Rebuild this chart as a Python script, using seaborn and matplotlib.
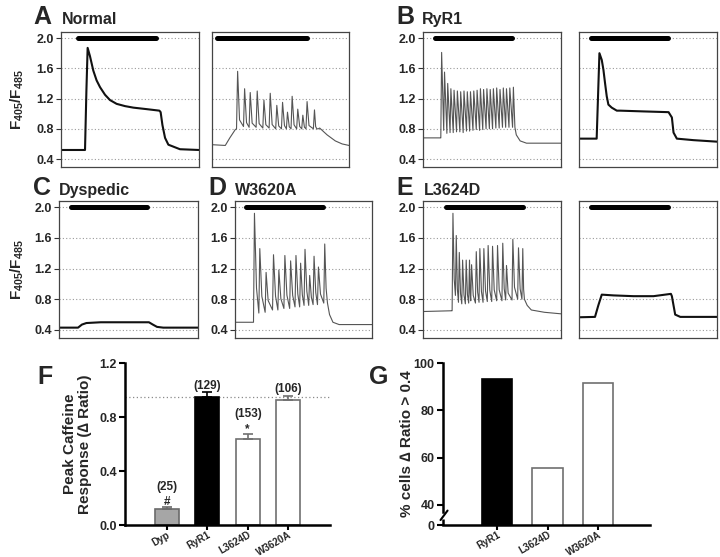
import numpy as np
import pandas as pd
import matplotlib
matplotlib.use("Agg")
import matplotlib.pyplot as plt
import seaborn as sns

sns.set_style("ticks")
plt.rcParams['font.family'] = ['Liberation Sans', 'DejaVu Sans']
plt.rcParams['font.weight'] = 'bold'
plt.rcParams['mathtext.fontset'] = 'custom'
plt.rcParams['mathtext.rm'] = 'Liberation Sans:bold'
plt.rcParams['mathtext.bf'] = 'Liberation Sans:bold'
plt.rcParams['mathtext.it'] = 'Liberation Sans:bold'

# ---------------- trace data (time in % of sweep, value = F405/F485) -------------
# Normal, smooth response
a1_t = [0, 17.4, 18.4, 19.3, 21.0, 23.4, 25.8, 28.3, 31.9, 35.5, 40.3, 46.4, 52.4, 62.1, 71.3, 72.2, 73.5, 75.4, 77.8, 86.2, 100]
a1_v = [0.52, 0.52, 1.30, 1.87, 1.76, 1.57, 1.44, 1.35, 1.25, 1.18, 1.13, 1.10, 1.08, 1.06, 1.04, 1.02, 0.85, 0.68, 0.59, 0.53, 0.52]
# Normal, oscillating
a2_pre_t = [0, 9.7, 13.0, 17.0]
a2_pre_v = [0.59, 0.58, 0.68, 0.79]
a2_pk_t = [18.7, 23.8, 27.9, 33.0, 37.9, 42.5, 47.3, 51.5, 55.1, 58.5, 62.6, 66.3, 69.4, 74.8]
a2_pk_v = [1.56, 1.33, 1.28, 1.30, 1.18, 1.27, 1.11, 1.15, 1.02, 1.23, 1.06, 0.98, 1.16, 1.05]
a2_tr_v = [0.80, 0.83, 0.82, 0.82, 0.81, 0.81, 0.80, 0.80, 0.80, 0.80, 0.80, 0.80, 0.80, 0.80]
a2_post_t = [76.5, 77.6, 78.6, 84.0, 90.0, 95.0, 100]
a2_post_v = [0.80, 0.80, 0.81, 0.72, 0.64, 0.60, 0.58]
# RyR1, oscillating
b1_pre_t = [0, 12.5]
b1_pre_v = [0.68, 0.68]
b1_pk_t = [13.5, 15.6, 17.9, 20.2, 22.5, 24.9, 27.3, 29.7, 32.1, 34.4, 36.8, 39.2, 41.6,
           43.9, 46.3, 48.7, 51.0, 53.4, 55.8, 58.2, 60.5, 62.9, 65.5]
b1_pk_v = [1.81, 1.55, 1.40, 1.33, 1.31, 1.30, 1.29, 1.30, 1.29, 1.29, 1.30, 1.31, 1.33,
           1.32, 1.33, 1.32, 1.33, 1.34, 1.32, 1.34, 1.33, 1.34, 1.35]
b1_tr_v = [0.68, 0.78, 0.74, 0.75, 0.75, 0.76, 0.76, 0.75, 0.77, 0.77, 0.78, 0.79, 0.78,
           0.79, 0.80, 0.80, 0.80, 0.81, 0.81, 0.82, 0.82, 0.82, 0.82]
b1_post_t = [66.6, 67.6, 70.4, 75.0, 100]
b1_post_v = [0.82, 0.72, 0.64, 0.61, 0.61]
# RyR1, smooth
b2_t = [0, 12.8, 14.8, 16.5, 17.7, 18.9, 20.1, 21.3, 23.7, 27.4, 29.8, 46.7, 64.9, 67.3, 68.5, 70.9, 83.0, 100]
b2_v = [0.67, 0.67, 1.80, 1.71, 1.58, 1.40, 1.23, 1.12, 1.08, 1.04, 1.04, 1.03, 1.02, 0.95, 0.75, 0.67, 0.65, 0.63]
# Dyspedic
c_t = [0, 13.7, 16.5, 19.7, 30.0, 50.0, 64.7, 67.5, 70.5, 75.0, 100]
c_v = [0.43, 0.43, 0.47, 0.49, 0.50, 0.50, 0.50, 0.47, 0.44, 0.43, 0.43]
# W3620A
d_pre_t = [0, 12.2]
d_pre_v = [0.50, 0.50]
d_pk_t = [14.2, 18.1, 22.7, 28.1, 32.0, 36.4, 40.6, 44.5, 47.9, 51.1, 54.5, 57.7, 60.9, 65.5]
d_pk_v = [1.92, 1.46, 1.15, 1.38, 1.18, 1.37, 1.30, 1.37, 1.27, 1.45, 1.11, 1.36, 1.22, 1.52]
d_tr_v = [0.50, 0.62, 0.63, 0.66, 0.66, 0.68, 0.68, 0.70, 0.70, 0.72, 0.72, 0.73, 0.73, 0.75]
d_post_t = [67.5, 69.0, 71.5, 76.0, 100]
d_post_v = [0.75, 0.60, 0.50, 0.47, 0.47]
# L3624D, oscillating
e1_pre_t = [0, 21.0]
e1_pre_v = [0.64, 0.65]
e1_pk_t = [21.7, 24.1, 26.3, 28.7, 31.3, 33.7, 35.2, 38.6, 41.2, 44.1, 47.2, 50.4, 54.0, 57.8, 60.5, 65.1, 69.2, 72.3]
e1_pk_v = [1.92, 1.63, 1.41, 1.31, 1.31, 1.31, 1.25, 1.42, 1.46, 1.46, 1.50, 1.49, 1.50, 1.53, 1.24, 1.58, 1.47, 1.46]
e1_tr_v = [0.65, 0.85, 0.76, 0.74, 0.74, 0.75, 0.78, 0.75, 0.76, 0.76, 0.77, 0.77, 0.78, 0.78, 0.79, 0.79, 0.80, 0.80]
e1_post_t = [73.5, 75.5, 78.5, 88.0, 100]
e1_post_v = [0.80, 0.72, 0.66, 0.63, 0.61]
# L3624D, small plateau
e2_t = [0, 11.6, 14.0, 16.5, 25.0, 39.5, 54.0, 66.6, 67.3, 69.7, 73.4, 100]
e2_v = [0.565, 0.57, 0.72, 0.86, 0.85, 0.84, 0.84, 0.87, 0.84, 0.60, 0.57, 0.57]

# caffeine application bars (start, end in % of sweep)
bar_a1 = [12.6, 68.8]
bar_a2 = [3.6, 69.2]
bar_b1 = [8.9, 64.3]
bar_b2 = [8.5, 64.4]
bar_c = [8.4, 63.5]
bar_d = [8.1, 64.3]
bar_e1 = [16.9, 72.8]
bar_e2 = [8.5, 64.4]

trace_ticks = [0.4, 0.8, 1.2, 1.6, 2.0]
trace_ticklabels = ["0.4", "0.8", "1.2", "1.6", "2.0"]

# ---------------- bar chart data ----------------
f_cats = ["Dyp", "RyR1", "L3624D", "W3620A"]
f_vals = [0.116, 0.950, 0.637, 0.924]
f_errs = [0.015, 0.033, 0.035, 0.034]
f_n = ["(25)", "(129)", "(153)", "(106)"]
f_marks = ["#", "", "*", ""]
f_ref = 0.95

g_cats = ["RyR1", "L3624D", "W3620A"]
g_vals = [93.3, 55.5, 91.6]
g_ticks = [40, 60, 80, 100]


def spike_trace(pre_t, pre_v, pk_t, pk_v, tr_v, post_t, post_v, rise, sh_dt, sh_frac):
    t = list(pre_t)
    v = list(pre_v)
    n = len(pk_t)
    for i in range(n):
        t += [pk_t[i] - rise, pk_t[i]]
        v += [tr_v[i], pk_v[i]]
        if sh_dt > 0:
            nxt_t = pk_t[i + 1] - rise if i + 1 < n else post_t[0]
            nxt_v = tr_v[i + 1] if i + 1 < n else post_v[0]
            dt = min(sh_dt, 0.5 * (nxt_t - pk_t[i]))
            t.append(pk_t[i] + dt)
            v.append(nxt_v + sh_frac * (pk_v[i] - nxt_v))
    t += list(post_t)
    v += list(post_v)
    return t, v


W, H = 720, 557
fig = plt.figure(figsize=(W / 100, H / 100), dpi=100, facecolor="white")


def px_axes(l, t, r, b):
    return fig.add_axes([l / W, 1 - b / H, (r - l) / W, (b - t) / H])


def trace_panel(rect, t, v, bar, color, lw, labels):
    ax = px_axes(*rect)
    ax.set_xlim(0, 100)
    ax.set_ylim(0.295, 2.08)
    for y in trace_ticks:
        ax.axhline(y, color="#9a9a9a", lw=0.8, ls=(0, (1, 2)), zorder=0)
    df = pd.DataFrame({"t": t, "v": v})
    sns.lineplot(data=df, x="t", y="v", sort=False, estimator=None, color=color, lw=lw, ax=ax)
    ax.plot(bar, [2.0, 2.0], color="black", lw=3.6, solid_capstyle="round", zorder=5)
    ax.set_xlabel("")
    ax.set_ylabel("")
    ax.set_xticks([])
    ax.set_yticks(trace_ticks)
    if labels:
        ax.set_yticklabels(trace_ticklabels, fontsize=9, fontweight="bold")
        ax.tick_params(axis="y", length=3.5, width=0.8, pad=1.5, color="#333333")
    else:
        ax.set_yticklabels([])
        ax.tick_params(axis="y", length=0)
    for s in ax.spines.values():
        s.set_color("#444444")
        s.set_linewidth(0.9)
        s.set_visible(True)
    return ax


dark = "#111111"
osc = "#555555"

a2_t, a2_v = spike_trace(a2_pre_t, a2_pre_v, a2_pk_t, a2_pk_v, a2_tr_v, a2_post_t, a2_post_v, 0.8, 1.4, 0.12)
b1_t, b1_v = spike_trace(b1_pre_t, b1_pre_v, b1_pk_t, b1_pk_v, b1_tr_v, b1_post_t, b1_post_v, 0.6, 0.0, 0.0)
d_t, d_v = spike_trace(d_pre_t, d_pre_v, d_pk_t, d_pk_v, d_tr_v, d_post_t, d_post_v, 0.7, 1.5, 0.25)
e1_t, e1_v = spike_trace(e1_pre_t, e1_pre_v, e1_pk_t, e1_pk_v, e1_tr_v, e1_post_t, e1_post_v, 0.6, 1.2, 0.2)

trace_panel((61, 32, 199, 167), a1_t, a1_v, bar_a1, dark, 1.5, True)
trace_panel((212, 32, 349, 167), a2_t, a2_v, bar_a2, osc, 0.8, False)
trace_panel((423, 32, 561, 167), b1_t, b1_v, bar_b1, osc, 0.8, True)
trace_panel((579, 32, 717, 167), b2_t, b2_v, bar_b2, dark, 1.5, False)
trace_panel((59, 201, 198, 338), c_t, c_v, bar_c, dark, 1.5, True)
trace_panel((235, 201, 372, 338), d_t, d_v, bar_d, osc, 0.8, True)
trace_panel((423, 201, 561, 338), e1_t, e1_v, bar_e1, osc, 0.8, True)
trace_panel((579, 201, 717, 338), e2_t, e2_v, bar_e2, dark, 1.5, False)


# panel letters & titles
def ftext(x, y, s, size, **kw):
    fig.text(x / W, 1 - y / H, s, fontsize=size, fontweight="bold", **kw)


ftext(33, 24, "A", 18, va="baseline")
ftext(62, 24, "Normal", 11.5, va="baseline")
ftext(396, 24, "B", 18, va="baseline")
ftext(422, 24, "RyR1", 11.5, va="baseline")
ftext(33, 195, "C", 18, va="baseline")
ftext(59, 195, "Dyspedic", 11.5, va="baseline")
ftext(208, 195, "D", 18, va="baseline")
ftext(235, 195, "W3620A", 11.5, va="baseline")
ftext(396, 195, "E", 18, va="baseline")
ftext(424, 195, "L3624D", 11.5, va="baseline")
ftext(37, 384, "F", 18, va="baseline")
ftext(369, 384, "G", 18, va="baseline")

ylab = r"$\mathbf{F_{405}/F_{485}}$"
ftext(17, 100, ylab, 11, rotation=90, ha="center", va="center")
ftext(17, 270, ylab, 11, rotation=90, ha="center", va="center")

# ---------------- panel F ----------------
axf = px_axes(125, 363, 330, 525)
f_df = pd.DataFrame({"cat": f_cats, "val": f_vals})
f_fill = ["#a6a6a6", "#000000", "#ffffff", "#ffffff"]
f_edge = ["#6a6a6a", "#000000", "#707070", "#707070"]
sns.barplot(data=f_df, x="cat", y="val", hue="cat", palette=f_fill, order=f_cats,
            hue_order=f_cats, width=0.6, legend=False, ax=axf, errorbar=None, linewidth=1.2)
for p, ec in zip(axf.patches, f_edge):
    p.set_edgecolor(ec)
    p.set_linewidth(1.2)
for i in range(len(f_cats)):
    top = f_vals[i] + f_errs[i]
    axf.errorbar(i, f_vals[i], yerr=[[0], [f_errs[i]]], fmt="none", ecolor=f_edge[i],
                 elinewidth=1.2, capsize=3.5, capthick=1.2, zorder=3)
    if f_marks[i]:
        axf.text(i, top + 0.04, f_marks[i], ha="center", va="center", fontsize=8.5, fontweight="bold")
        ny = top + 0.15
    else:
        ny = top + 0.05
    axf.text(i, ny, f_n[i], ha="center", va="center", fontsize=8.5, fontweight="bold")
axf.axhline(f_ref, color="#8a8a8a", lw=0.9, ls=(0, (1, 2)), zorder=0)
axf.set_xlim(-1.03, 4.03)
axf.set_ylim(0, 1.2)
axf.set_yticks([0, 0.4, 0.8, 1.2])
axf.set_yticklabels(["0.0", "0.4", "0.8", "1.2"], fontsize=9, fontweight="bold")
axf.set_xticks(range(len(f_cats)))
axf.set_xticklabels(f_cats, rotation=30, ha="right", rotation_mode="anchor", fontsize=7.1, fontweight="bold")
axf.set_xlabel("")
axf.set_ylabel("Peak Caffeine\nResponse (\u2206 Ratio)", fontsize=11, fontweight="bold", linespacing=1.15)
axf.yaxis.set_label_coords(-0.16, 0.5)
sns.despine(ax=axf)
for s in ["left", "bottom"]:
    axf.spines[s].set_linewidth(1.8)
    axf.spines[s].set_color("black")
axf.tick_params(axis="y", length=4, width=1.5, color="black", pad=2)
axf.tick_params(axis="x", length=3.5, width=1.5, color="black", pad=0)

# ---------------- panel G ----------------
axg = px_axes(443, 363, 650, 525)
g_df = pd.DataFrame({"cat": g_cats, "val": g_vals})
g_fill = ["#000000", "#ffffff", "#ffffff"]
g_edge = ["#000000", "#707070", "#707070"]
sns.barplot(data=g_df, x="cat", y="val", hue="cat", palette=g_fill, order=g_cats,
            hue_order=g_cats, width=0.6, legend=False, ax=axg, errorbar=None)
for p, ec in zip(axg.patches, g_edge):
    p.set_edgecolor(ec)
    p.set_linewidth(1.2)
g_low = 31.5
axg.set_xlim(-1.07, 3.03)
axg.set_ylim(g_low, 100)
axg.set_yticks([g_low] + g_ticks)
axg.set_yticklabels(["0"] + [str(v) for v in g_ticks], fontsize=9, fontweight="bold")
axg.set_xticks(range(len(g_cats)))
axg.set_xticklabels(g_cats, rotation=30, ha="right", rotation_mode="anchor", fontsize=7.1, fontweight="bold")
axg.set_xlabel("")
axg.set_ylabel("% cells \u2206 Ratio > 0.4", fontsize=11, fontweight="bold")
axg.yaxis.set_label_coords(-0.14, 0.5)
sns.despine(ax=axg)
for s in ["left", "bottom"]:
    axg.spines[s].set_linewidth(1.8)
    axg.spines[s].set_color("black")
axg.spines["left"].set_bounds(37.0, 100)
tr = axg.get_yaxis_transform()
axg.plot([0, 0], [g_low, 34.0], color="black", lw=1.8, transform=tr, clip_on=False, solid_capstyle="butt")
axg.plot([-0.012, 0.022], [33.6, 37.6], color="black", lw=1.5, transform=tr, clip_on=False)
axg.tick_params(axis="y", length=4, width=1.5, color="black", pad=2)
axg.tick_params(axis="x", length=3.5, width=1.5, color="black", pad=0)

fig.savefig("out.png", dpi=100, facecolor="white")
